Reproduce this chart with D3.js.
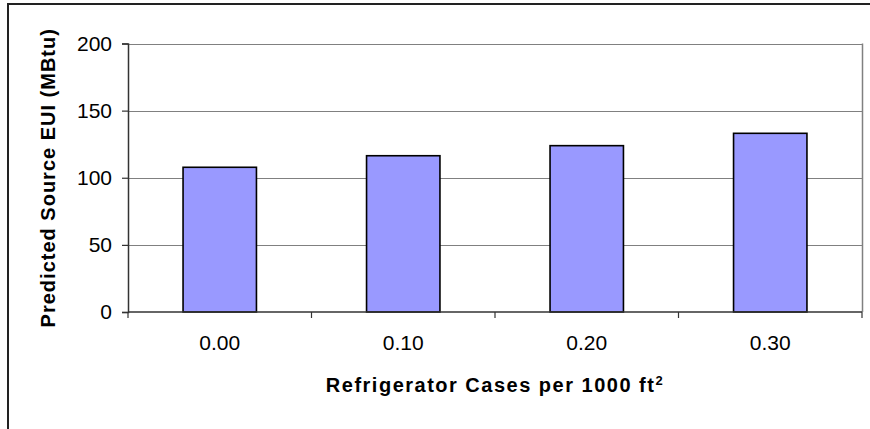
<!DOCTYPE html>
<html>
<head>
<meta charset="utf-8">
<script src="https://cdn.jsdelivr.net/npm/d3@7"></script>
<style>
  body { margin: 0; background: #fff; }
  text { font-family: "Liberation Sans", Arial, sans-serif; fill: #000; }
</style>
</head>
<body>
<div id="container"></div>
<script>
// data
var categories = ["0.00", "0.10", "0.20", "0.30"];
var values = [107.8, 116.4, 123.9, 133.1];
var yTicks = [0, 50, 100, 150, 200];

var width = 870,
    height = 429;

var plot = { left: 128, right: 862, top: 43.5, bottom: 312 };

var svg = d3.select("#container").append("svg")
    .attr("width", width)
    .attr("height", height);

// outer chart border (right/bottom sit outside the frame)
svg.append("rect")
    .attr("x", 8).attr("y", 4)
    .attr("width", 900).attr("height", 500)
    .attr("fill", "none")
    .attr("stroke", "#222")
    .attr("stroke-width", 2);

var x = d3.scaleBand()
    .domain(categories)
    .range([plot.left, plot.right])
    .paddingInner(0.6)
    .paddingOuter(0.3);

var y = d3.scaleLinear()
    .domain([0, 200])
    .range([plot.bottom, plot.top]);

// gridlines
svg.append("g")
    .selectAll("line")
    .data(yTicks.slice(1))
    .enter().append("line")
    .attr("x1", plot.left).attr("x2", plot.right)
    .attr("y1", function (d) { return Math.round(y(d)) + 0.5; })
    .attr("y2", function (d) { return Math.round(y(d)) + 0.5; })
    .attr("stroke", "#808080")
    .attr("stroke-width", 1.2);

// right border of plot area
svg.append("line")
    .attr("x1", plot.right + 0.5).attr("x2", plot.right + 0.5)
    .attr("y1", y(200)).attr("y2", y(0))
    .attr("stroke", "#808080")
    .attr("stroke-width", 1.5);

// bars
svg.append("g")
    .selectAll("rect")
    .data(values)
    .enter().append("rect")
    .attr("x", function (d, i) { return x(categories[i]); })
    .attr("y", function (d) { return y(d); })
    .attr("width", x.bandwidth())
    .attr("height", function (d) { return y(0) - y(d); })
    .attr("fill", "#9999ff")
    .attr("stroke", "#000")
    .attr("stroke-width", 1.6);

// y axis
var yAxis = svg.append("g")
    .attr("transform", "translate(" + plot.left + ",0)")
    .call(d3.axisLeft(y).tickValues(yTicks).tickSize(6).tickPadding(10));
yAxis.select(".domain").attr("stroke", "#333").attr("stroke-width", 1.5);
yAxis.selectAll(".tick line").attr("stroke", "#333").attr("stroke-width", 1.2);
yAxis.selectAll(".tick text")
    .style("font-family", "Liberation Sans, Arial, sans-serif")
    .style("font-size", "21px")
    .attr("fill", "#000");

// x axis: labels under bars, ticks at category boundaries
var bounds = d3.range(categories.length + 1);
var xb = d3.scaleLinear().domain([0, categories.length]).range([plot.left, plot.right]);

svg.append("line")
    .attr("x1", plot.left).attr("x2", plot.right)
    .attr("y1", plot.bottom).attr("y2", plot.bottom)
    .attr("stroke", "#333")
    .attr("stroke-width", 1.5);

svg.append("g")
    .selectAll("line")
    .data(bounds)
    .enter().append("line")
    .attr("x1", function (d) { return xb(d); })
    .attr("x2", function (d) { return xb(d); })
    .attr("y1", plot.bottom).attr("y2", plot.bottom + 6)
    .attr("stroke", "#333")
    .attr("stroke-width", 1.2);

svg.append("g")
    .selectAll("text")
    .data(categories)
    .enter().append("text")
    .attr("x", function (d) { return x(d) + x.bandwidth() / 2; })
    .attr("y", 350)
    .attr("text-anchor", "middle")
    .style("font-size", "21px")
    .text(function (d) { return d; });

// axis titles
var xt = svg.append("text")
    .attr("x", (plot.left + plot.right) / 2)
    .attr("y", 392)
    .attr("text-anchor", "middle")
    .style("font-size", "20px")
    .style("font-weight", "bold")
    .style("letter-spacing", "1.5px")
    .text("Refrigerator Cases per 1000 ft");
xt.append("tspan")
    .attr("dy", -7)
    .style("font-size", "13px")
    .text("2");

svg.append("text")
    .attr("transform", "translate(55," + (plot.top + plot.bottom) / 2 + ") rotate(-90)")
    .attr("text-anchor", "middle")
    .style("font-size", "20px")
    .style("font-weight", "bold")
    .style("letter-spacing", "1px")
    .text("Predicted Source EUI (MBtu)");
</script>
</body>
</html>
